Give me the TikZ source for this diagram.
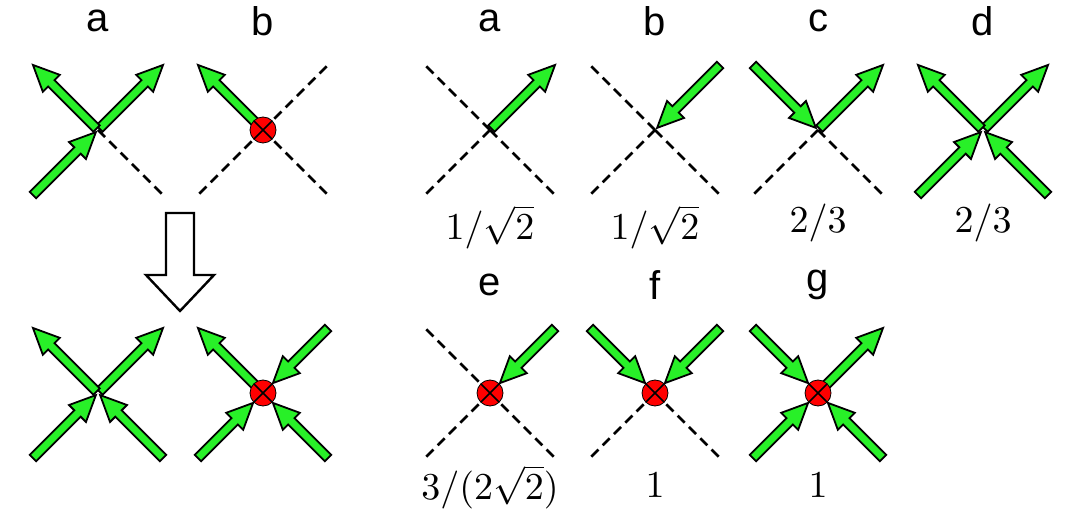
\documentclass[tikz,border=0pt]{standalone}
\usepackage{fontspec}
\newfontfamily\lab{Liberation Sans}
\usetikzlibrary{calc}
\definecolor{ag}{RGB}{40,240,40}
\tikzset{arrowshape/.style={fill=ag,draw=black,line width=1.8pt,line join=miter},
  dashline/.style={line width=2.6pt,dash pattern=on 10pt off 6pt},
  letter/.style={font=\lab\fontsize{40}{42}\selectfont},
  val/.style={scale=3.8}}
% #1 cx, #2 cy, #3 angle, #4 type (o/i/d), #5 circle radius
\newcommand\arm[5]{%
  \begin{scope}[shift={(#1,#2)},rotate=#3]
  \ifx#4o\draw[arrowshape] (2,-4.5)--(66,-4.5)--(66,-12)--(92,0)--(66,12)--(66,4.5)--(2,4.5)--cycle;\fi
  \ifx#4i\draw[arrowshape] (92,-4.5)--({#5+26},-4.5)--({#5+26},-12)--(#5,0)--({#5+26},12)--({#5+26},4.5)--(92,4.5)--cycle;\fi
  \ifx#4d\draw[dashline] (0,0)--(92,0);\fi
  \end{scope}}
% #1 cx #2 cy(flipped) #3 NE #4 NW #5 SW #6 SE #7 circle(1/0)
\newcommand\vtx[7]{%
  \ifnum#7=1 \def\rr{14}\else\def\rr{3}\fi
  \arm{#1}{#2}{45}{#3}{\rr}\arm{#1}{#2}{135}{#4}{\rr}\arm{#1}{#2}{225}{#5}{\rr}\arm{#1}{#2}{315}{#6}{\rr}
  \ifnum#7=1 \fill[red,draw=black,line width=0.8pt] (#1,#2) circle (13);
  \draw[line width=1.6pt] ($(#1,#2)+(-9,-9)$)--($(#1,#2)+(9,9)$) ($(#1,#2)+(-9,9)$)--($(#1,#2)+(9,-9)$);\fi}
\begin{document}
\begin{tikzpicture}[x=1pt,y=1pt]
\useasboundingbox (0,0) rectangle (1083,525);
% left
\vtx{98}{395}{o}{o}{i}{d}{0}
\vtx{263}{395}{d}{o}{d}{d}{1}
\vtx{98}{132}{o}{o}{i}{i}{0}
\vtx{263}{132}{i}{o}{i}{i}{1}
\node[letter] (la) at (98,504) {a};
\node[letter] (lb) at (263,504) {b};
\draw[line width=2.4pt,fill=white] (166,312)--(194,312)--(194,250)--(214,250)--(180,214)--(146,250)--(166,250)--cycle;
% right top
\vtx{490}{395}{o}{d}{d}{d}{0}
\vtx{655}{395}{i}{d}{d}{d}{0}
\vtx{818}{395}{o}{i}{d}{d}{0}
\vtx{983}{395}{o}{o}{i}{i}{0}
\foreach \x/\t in {490/a,655/b,818/c,983/d}{\node[letter] at (\x,504) {\t};}
\node[val] at (490,298) {$1/\sqrt{2}$};
\node[val] at (655,298) {$1/\sqrt{2}$};
\node[val] at (818,302) {$2/3$};
\node[val] at (983,302) {$2/3$};
% right bottom
\vtx{490}{132}{i}{d}{d}{d}{1}
\vtx{655}{132}{i}{i}{d}{d}{1}
\vtx{818}{132}{o}{i}{i}{i}{1}
\foreach \x/\t in {490/e,655/f,818/g}{\node[letter] at (\x,240) {\t};}
\node[val] at (490,38) {$3/(2\sqrt{2})$};
\node[val] at (655,40) {$1$};
\node[val] at (818,40) {$1$};
\end{tikzpicture}
\end{document}
